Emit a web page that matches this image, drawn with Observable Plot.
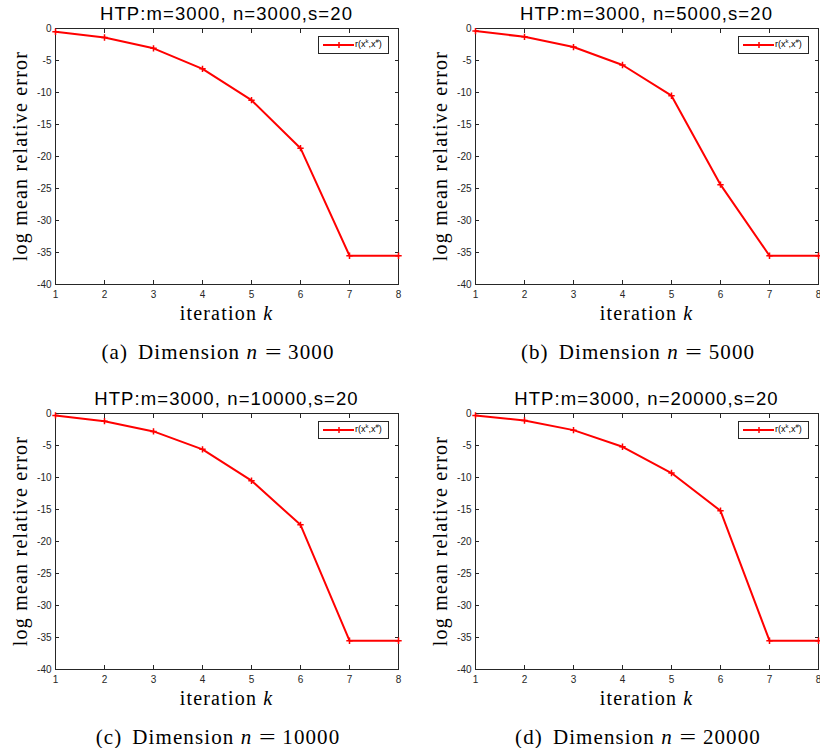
<!DOCTYPE html>
<html><head><meta charset="utf-8">
<script src="https://cdn.jsdelivr.net/npm/d3@7"></script>
<script src="https://cdn.jsdelivr.net/npm/@observablehq/plot@0.6"></script>
<style>
body{margin:0;width:820px;height:748px;overflow:hidden;background:#fff;position:relative}
.panel{position:absolute;width:420px;height:385px}
.panel svg{position:absolute;left:0;top:0;overflow:visible}
.c{position:absolute;white-space:nowrap;transform:translate(-50%,-50%);line-height:1}
.title{font-family:"Liberation Sans",Arial,sans-serif;font-size:18.5px;letter-spacing:1.1px;color:#000}
.serif{font-family:"Liberation Serif","Times New Roman",serif;color:#000}
.xlab{font-size:20px;letter-spacing:1.2px}
.ylab{font-size:20px;letter-spacing:1.2px;transform:translate(-50%,-50%) rotate(-90deg)}
.cap{font-size:21px;letter-spacing:1.1px}
.cap .eq{display:inline-block;transform:scaleX(1.4);margin:0 8px 0 9px}
.legend{position:absolute;left:318px;top:36px;width:69px;height:16px;border:1px solid #262626;background:#fff;font-family:"Liberation Sans",Arial,sans-serif;font-size:9px;color:#000}
.legend svg{position:absolute;left:0;top:0}
.legend span{position:absolute;left:36px;top:3px;line-height:1}
.legend sup{font-size:6px;vertical-align:4px;line-height:0}
</style></head>
<body>
<script>
const iterations = [1, 2, 3, 4, 5, 6, 7, 8];
const errorN3000  = [-0.5, -1.4, -3.1, -6.3, -11.2, -18.7, -35.5, -35.5];
const errorN5000  = [-0.4, -1.3, -2.9, -5.7, -10.5, -24.4, -35.5, -35.5];
const errorN10000 = [-0.3, -1.2, -2.8, -5.6, -10.5, -17.4, -35.5, -35.5];
const errorN20000 = [-0.3, -1.1, -2.6, -5.2, -9.3, -15.2, -35.5, -35.5];
const titles = ["HTP:m=3000, n=3000,s=20", "HTP:m=3000, n=5000,s=20", "HTP:m=3000, n=10000,s=20", "HTP:m=3000, n=20000,s=20"];
const captionLetters = ["a", "b", "c", "d"];
const captionDims = ["3000", "5000", "10000", "20000"];
const xTicks = [1, 2, 3, 4, 5, 6, 7, 8];
const yTicks = [0, -5, -10, -15, -20, -25, -30, -35, -40];
const xLabel = "iteration";
const yLabel = "log mean relative error";

const series = [errorN3000, errorN5000, errorN10000, errorN20000];
const offsets = [[0, 0], [420, 0], [0, 385], [420, 385]];
const axisColor = "#262626";

series.forEach((vals, i) => {
  const data = iterations.map((k, j) => ({k, v: vals[j]}));
  const panel = document.createElement("div");
  panel.className = "panel";
  panel.style.left = offsets[i][0] + "px";
  panel.style.top = offsets[i][1] + "px";
  document.body.appendChild(panel);

  const chart = Plot.plot({
    width: 410, height: 300,
    marginLeft: 55, marginRight: 12, marginTop: 28, marginBottom: 16,
    x: {domain: [1, 8]},
    y: {domain: [-40, 0]},
    style: {fontFamily: "'Liberation Sans', Arial, sans-serif", fontSize: "10px", color: axisColor, background: "transparent"},
    marks: [
      Plot.frame({stroke: axisColor, strokeWidth: 1}),
      Plot.axisX({ticks: xTicks, tickSize: -4, tickPadding: 10, tickFormat: d => String(d), label: null}),
      Plot.axisX({anchor: "top", ticks: xTicks, tickSize: -4, fill: "none", label: null}),
      Plot.axisY({ticks: yTicks, tickSize: -4, tickPadding: 8, tickFormat: d => String(d), label: null}),
      Plot.axisY({anchor: "right", ticks: yTicks, tickSize: -4, fill: "none", label: null}),
      Plot.line(data, {x: "k", y: "v", stroke: "#ff0000", strokeWidth: 2}),
      Plot.dot(data, {x: "k", y: "v", symbol: "plus", stroke: "#ff0000", r: 2.2, strokeWidth: 1.5})
    ]
  });
  panel.appendChild(chart);

  const add = (cls, html, x, y) => {
    const d = document.createElement("div");
    d.className = cls;
    d.innerHTML = html;
    d.style.left = x + "px";
    d.style.top = y + "px";
    panel.appendChild(d);
    return d;
  };
  add("c title", titles[i], 226.5, 13.5);
  add("c serif xlab", `${xLabel} <i>k</i>`, 226.5, 313);
  add("c serif ylab", yLabel, 20, 156);
  add("c serif cap", `(${captionLetters[i]})<span style="margin-left:10px">Dimension</span> <i>n</i><span class="eq">=</span>${captionDims[i]}`, 218, 352);

  const lg = document.createElement("div");
  lg.className = "legend";
  lg.innerHTML = `<svg width="36" height="16"><line x1="4" x2="35" y1="8" y2="8" stroke="#ff0000" stroke-width="2"/><line x1="17" x2="23" y1="8" y2="8" stroke="#ff0000" stroke-width="1.5"/><line x1="20" x2="20" y1="5" y2="11" stroke="#ff0000" stroke-width="1.5"/></svg><span>r(x<sup>k</sup>,x<sup>#</sup>)</span>`;
  panel.appendChild(lg);
});
</script>
</body></html>
